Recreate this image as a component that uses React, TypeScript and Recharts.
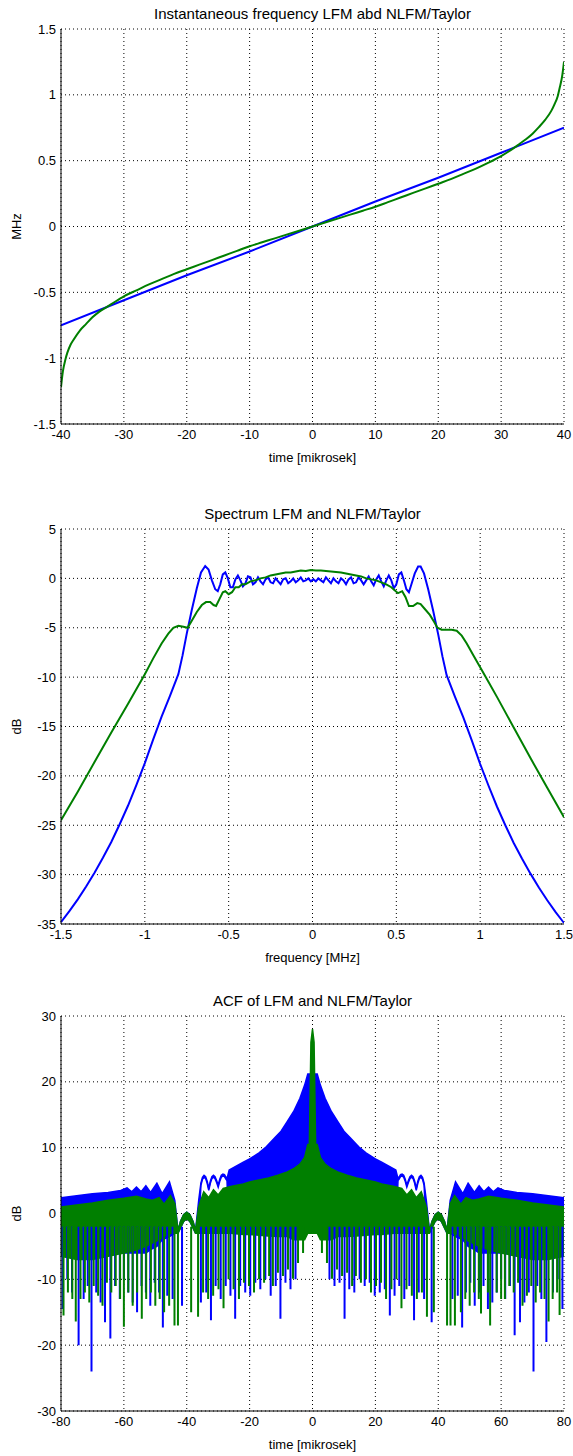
import React from "react";
import { ComposedChart, Line, Area, XAxis, YAxis, CartesianGrid } from "recharts";

const FONT = '"Liberation Sans", Arial, Helvetica, sans-serif';
const BLUE = "#0000ff";
const GREEN = "#007f00";
const W = 573;
const CHART_H = 469;
const PLOT_TOP = 29;
const Y_AXIS_W = 61;
const RIGHT = 9;

// ---------- 1: instantaneous frequency ----------
const ifTicksX = [-40, -30, -20, -10, 0, 10, 20, 30, 40];
const ifTicksY = [-1.5, -1, -0.5, 0, 0.5, 1, 1.5];
const lfmTime = [-40, -30, -20, -10, 0, 10, 20, 30, 40];
const lfmFreq = [-0.75, -0.56, -0.37, -0.19, 0, 0.19, 0.37, 0.56, 0.75];
const nlfmTime = [-40, -39.7, -39.3, -39, -38.5, -38, -37, -36, -35, -34, -33, -32, -30, -28, -26, -24, -22, -20, -18, -16, -14, -12, -10, -8, -6, -4, -2, 0, 2, 4, 6, 8, 10, 12, 14, 16, 18, 20, 22, 24, 26, 28, 30, 32, 33, 34, 35, 36, 37, 38, 38.5, 39, 39.3, 39.7, 40];
const nlfmFreq = [-1.22, -1.1, -1.01, -0.96, -0.9, -0.86, -0.79, -0.74, -0.69, -0.65, -0.62, -0.59, -0.53, -0.485, -0.44, -0.4, -0.36, -0.325, -0.29, -0.255, -0.22, -0.185, -0.15, -0.12, -0.09, -0.06, -0.03, 0, 0.03, 0.06, 0.09, 0.12, 0.15, 0.185, 0.22, 0.255, 0.29, 0.325, 0.36, 0.4, 0.44, 0.485, 0.535, 0.595, 0.63, 0.665, 0.705, 0.755, 0.81, 0.88, 0.93, 0.99, 1.05, 1.14, 1.25];

// ---------- 2: spectrum ----------
const specTicksX = [-1.5, -1, -0.5, 0, 0.5, 1, 1.5];
const specTicksY = [-35, -30, -25, -20, -15, -10, -5, 0, 5];
const lfmSpecF = [
  -1.5, -1.45, -1.4, -1.35, -1.3, -1.25, -1.2, -1.15, -1.1, -1.05, -1, -0.95, -0.9, -0.85, -0.8,
  -0.775, -0.75, -0.72, -0.69, -0.665, -0.64, -0.62, -0.6, -0.58, -0.565, -0.55, -0.535, -0.52, -0.505, -0.49,
  -0.475, -0.46, -0.445, -0.43, -0.415, -0.4, -0.385, -0.37, -0.355, -0.34, -0.325, -0.31, -0.295, -0.28, -0.265,
  -0.25, -0.235, -0.22, -0.205, -0.19, -0.175, -0.16, -0.145, -0.13, -0.115, -0.1, -0.085, -0.07, -0.055, -0.04,
  -0.025, -0.01,
  0.005, 0.02, 0.035, 0.05, 0.065, 0.08, 0.095, 0.11, 0.125, 0.14, 0.155, 0.17, 0.185, 0.2, 0.215, 0.23,
  0.245, 0.26, 0.275, 0.29, 0.305, 0.32, 0.335, 0.35, 0.365, 0.38, 0.395, 0.41, 0.425, 0.44, 0.455, 0.47,
  0.485, 0.5, 0.515, 0.53, 0.545, 0.56, 0.575, 0.59, 0.61, 0.63, 0.645, 0.665, 0.69, 0.72, 0.75, 0.775, 0.8,
  0.85, 0.9, 0.95, 1, 1.05, 1.1, 1.15, 1.2, 1.25, 1.3, 1.35, 1.4, 1.45, 1.5,
];
const lfmSpecDb = [
  -34.8, -33.7, -32.5, -31.2, -29.8, -28.3, -26.7, -24.9, -23.0, -20.9, -18.7, -16.3, -14.0, -11.9, -9.7,
  -7.8, -5.6, -3.2, -1.0, 0.6, 1.25, 0.9, -0.2, -1.1, -1.3, -0.6, 0.4, 0.6, 0.0, -0.9,
  -0.9, -0.1, 0.3, -0.2, -0.8, -0.5, 0.2, 0.1, -0.6, -0.4, 0.1, -0.3, -0.6, -0.1, 0.1,
  -0.4, -0.5, 0.0, -0.3, -0.6, -0.1, 0.0, -0.5, -0.3, 0.0, -0.4, -0.2, 0.1, -0.3, -0.2,
  0.0, -0.3,
  -0.1, -0.3, 0.0, -0.2, -0.4, 0.1, -0.2, -0.5, 0.0, -0.3, -0.5, 0.0, -0.2, -0.6, -0.1, 0.1,
  -0.5, -0.4, 0.1, -0.2, -0.6, -0.2, 0.2, -0.3, -0.7, -0.1, 0.3, -0.3, -0.8, -0.2, 0.3, -0.2,
  -1.0, -0.6, 0.4, 0.6, -0.2, -1.1, -1.4, -0.6, 0.5, 1.2, 1.2, 0.5, -1.1, -3.3, -5.7, -7.9, -9.8,
  -12.0, -14.1, -16.4, -18.8, -21.0, -23.1, -25.0, -26.8, -28.4, -29.9, -31.3, -32.6, -33.8, -34.9,
];
const nlfmSpecF = [
  -1.5, -1.4, -1.3, -1.2, -1.1, -1.0, -0.95, -0.9, -0.86, -0.83, -0.8, -0.77, -0.745, -0.72, -0.69, -0.66,
  -0.635, -0.61, -0.59, -0.575, -0.555, -0.535, -0.52, -0.5, -0.48, -0.46, -0.44, -0.42, -0.4, -0.37, -0.34,
  -0.31, -0.28, -0.25, -0.22, -0.19, -0.16, -0.13, -0.1, -0.07, -0.04, -0.01, 0.02, 0.05, 0.08, 0.11, 0.14,
  0.17, 0.2, 0.23, 0.26, 0.29, 0.32, 0.35, 0.38, 0.41, 0.44, 0.47, 0.49, 0.51, 0.535, 0.555, 0.575, 0.6,
  0.625, 0.645, 0.67, 0.7, 0.725, 0.745, 0.77, 0.8, 0.83, 0.86, 0.89, 0.92, 0.96, 1.0, 1.05, 1.1, 1.2, 1.3,
  1.4, 1.5,
];
const nlfmSpecDb = [
  -24.5, -21.6, -18.6, -15.6, -12.7, -9.7, -8.1, -6.6, -5.6, -5.0, -4.8, -4.9, -5.0, -4.3, -3.4, -2.7,
  -2.4, -2.4, -2.7, -2.8, -2.1, -1.4, -1.3, -1.6, -1.4, -0.9, -0.9, -0.6, -0.6, -0.3, -0.2,
  0.0, 0.1, 0.3, 0.4, 0.5, 0.6, 0.6, 0.7, 0.8, 0.75, 0.85, 0.8, 0.8, 0.75, 0.7, 0.65,
  0.6, 0.5, 0.4, 0.3, 0.2, 0.0, -0.1, -0.2, -0.4, -0.6, -0.9, -1.2, -1.5, -1.3, -1.9, -2.8, -2.8,
  -2.5, -2.6, -3.1, -3.7, -4.4, -5.0, -5.2, -5.2, -5.2, -5.3, -5.8, -6.6, -7.8, -9.0, -10.5, -12.0, -15.1, -18.2,
  -21.2, -24.2,
];

// ---------- 3: ACF ----------
const acfTicksX = [-80, -60, -40, -20, 0, 20, 40, 60, 80];
const acfTicksY = [-30, -20, -10, 0, 10, 20, 30];
const SPIKE_TOP = -2;
const lfmBandT = [
  -80, -75, -70, -65, -61, -59, -57.5, -56, -54.5, -53, -51.5, -49.5, -47.8, -45.5, -43.8, -42.8, -42, -41, -40, -39,
  -38, -37.2, -36.2, -35.5, -35, -34.5, -34, -33.5, -33, -32.5, -32, -31.5, -31, -30.5, -30, -29.5, -29, -28.5, -28, -27.5,
  -27.2, -26.5, -22, -20, -17, -15, -12, -10, -8, -6, -4, -2.5, -1.5,
  0,
  1.5, 2.5, 4, 6, 8, 10, 12, 15, 17, 20, 22, 26.5, 27.2, 27.5, 28, 28.5, 29, 29.5, 30, 30.5,
  31, 31.5, 32, 32.5, 33, 33.5, 34, 34.5, 35, 35.5, 36.2, 37.2, 38, 39, 40, 41, 42, 42.8, 43.8, 45.5,
  47.8, 49.5, 51.5, 53, 54.5, 56, 57.5, 59, 61, 65, 70, 75, 80,
];
const lfmBandHi = [
  2.4, 2.7, 3.0, 3.2, 3.5, 3.9, 3.3, 4.0, 3.3, 4.2, 3.2, 4.6, 3.0, 4.8, 2.0, -2.6, -1.2, -0.2, 0.2, -0.2,
  -1.2, -2.6, 2.0, 4.6, 5.5, 5.8, 5.6, 4.9, 3.8, 4.9, 5.6, 5.8, 5.6, 5.0, 4.3, 5.2, 5.8, 6.0, 5.9, 5.5,
  5.3, 6.6, 7.8, 8.3, 9.2, 10.0, 11.5, 12.5, 14.0, 15.5, 17.5, 19.5, 21.2,
  21.2,
  21.2, 19.5, 17.5, 15.5, 14.0, 12.5, 11.5, 10.0, 9.2, 8.3, 7.8, 6.6, 5.3, 5.5, 5.9, 6.0, 5.8, 5.2, 4.3, 5.0,
  5.6, 5.8, 5.6, 4.9, 3.8, 4.9, 5.6, 5.8, 5.5, 4.6, 2.0, -2.6, -1.2, -0.2, 0.2, -0.2, -1.2, -2.6, 2.0, 4.8,
  3.0, 4.6, 3.2, 4.2, 3.3, 4.0, 3.3, 3.9, 3.5, 3.2, 3.0, 2.7, 2.4,
];
const lfmBandLo = [
  -6, -6, -6, -6, -6, -6, -6, -6, -6, -6, -5.5, -5, -4, -3.5, -3, -3, -2.2, -1.2, -0.8, -1.2,
  -2.2, -3, -3, 4.3, 5.2, 5.5, 5.3, 4.6, 3.5, 4.6, 5.3, 5.5, 5.3, 4.7, 4.0, 4.9, 5.5, 5.7, 5.6, 5.2,
  5.0, -3, -3, -3, -3, -3, -3, -3, -3, -3, -3, -3, -3,
  -3,
  -3, -3, -3, -3, -3, -3, -3, -3, -3, -3, -3, -3, 5.0, 5.2, 5.6, 5.7, 5.5, 4.9, 4.0, 4.7,
  5.3, 5.5, 5.3, 4.6, 3.5, 4.6, 5.3, 5.5, 5.2, 4.3, -3, -3, -2.2, -1.2, -0.8, -1.2, -2.2, -3, -3, -3.5,
  -4, -5, -5.5, -6, -6, -6, -6, -6, -6, -6, -6, -6, -6,
];
const nlfmBandT = [
  -80, -75, -70, -65, -60, -56, -53, -51, -48.8, -47.2, -45.2, -43.8, -42.8, -42, -41, -40, -39, -38, -37.2, -36.2,
  -34.6, -33, -31.5, -30, -28.4, -26, -22, -20, -17, -14, -11, -8, -6, -4, -2.5, -1.5, -1, -0.5,
  0,
  0.5, 1, 1.5, 2.5, 4, 6, 8, 11, 14, 17, 20, 22, 26, 28.4, 30, 31.5, 33, 34.6, 36.2,
  37.2, 38, 39, 40, 41, 42, 42.8, 43.8, 45.2, 47.2, 48.8, 51, 53, 56, 60, 65, 70, 75, 80,
];
const nlfmBandHi = [
  1.0, 1.3, 1.6, 2.0, 2.3, 2.6, 2.2, 2.0, 2.4, 1.4, 2.7, 1.5, -2.6, -1.2, -0.2, 0.2, -0.2, -1.2, -2.6, 1.0,
  3.3, 2.4, 3.6, 2.8, 3.8, 4.1, 4.5, 4.8, 5.1, 5.4, 5.8, 6.3, 6.8, 7.5, 8.5, 10.5, 10.5, 26,
  28,
  26, 10.5, 10.5, 8.5, 7.5, 6.8, 6.3, 5.8, 5.4, 5.1, 4.8, 4.5, 4.1, 3.8, 2.8, 3.6, 2.4, 3.3, 1.0,
  -2.6, -1.2, -0.2, 0.2, -0.2, -1.2, -2.6, 1.5, 2.7, 1.4, 2.4, 2.0, 2.2, 2.6, 2.3, 2.0, 1.6, 1.3, 1.0,
];
const nlfmBandLo = [
  -6.5, -7, -7, -6.5, -6, -5.5, -5, -4.5, -4, -3.5, -3, -3, -3, -2.2, -1.2, -0.8, -1.2, -2.2, -3, -3,
  -3, -3, -3, -3, -3, -3, -3.2, -3.2, -3.3, -3.4, -3.5, -3.5, -4, -4, -4, -3, -3, -3,
  -3,
  -3, -3, -3, -4, -4, -4, -3.5, -3.5, -3.4, -3.3, -3.2, -3.2, -3, -3, -3, -3, -3, -3, -3,
  -3, -2.2, -1.2, -0.8, -1.2, -2.2, -3, -3, -3, -3.5, -4, -4.5, -5, -5.5, -6, -6.5, -7, -7, -6.5,
];
const lfmSpikeT = [
  -79.5, -78, -76.5, -74.4, -72.8, -71.5, -70.3, -68.8, -67.4, -66, -64.3, -62.8, -61.3, -60, -58.6, -57.2,
  -55.8, -54.4, -53, -51.6, -50.2, -48.8, -47.6, -46.2, -44.5, -41.5, -35.5, -33.8, -32.3, -30.8, -29.2, -27.6,
  -26.1, -24.6, -23, -21.4, -19.8, -18.2, -16.6, -15, -13.3, -11.7, -10.2, -8.6, -7, -5.4,
  5.4, 7, 8.6, 10.2, 11.7, 13.3, 15, 16.6, 18.2, 19.8, 21.4, 23, 24.6, 26.1, 27.6, 29.2, 30.8, 32.3, 33.8, 35.5,
  37.9, 44.5, 46.2, 47.6, 48.8, 50.2, 51.6, 53, 54.4, 55.8, 57.2, 58.6, 60, 61.3, 62.8, 64.3, 66, 67.4, 68.8,
  70.3, 71.5, 72.8, 74.4, 76.5, 78, 79.5,
];
const lfmSpikeDb = [
  -14.5, -10, -12, -20, -13, -11, -24, -12, -13.5, -16.5, -19, -11, -13, -10, -12, -13.5,
  -15, -11, -12, -14, -10.5, -12, -17.3, -12.5, -13, -14, -13.5, -12, -16.2, -11, -13, -11,
  -12.5, -16, -11, -12, -12.5, -10.5, -11.5, -10, -12.5, -11, -16, -10.5, -11.5, -10,
  -10, -11, -10.5, -16, -11.5, -12, -10, -11, -10.5, -12.5, -12, -11.5, -15.5, -12.5, -11, -13, -11, -16.2, -12, -13,
  -16.5, -13, -12.5, -17.3, -12, -10.5, -14, -12, -11, -14.5, -13.5, -12, -10, -13, -11, -18.5, -16.5, -13.5, -12,
  -24, -11, -13, -19.5, -12, -10, -14.5,
];
const nlfmSpikeT = [
  -79.2, -77.8, -76.4, -75.3, -73.8, -72.4, -71, -69.6, -68.2, -66.8, -65.4, -64, -62.6, -61.2, -60, -58.6,
  -57.2, -55.8, -54.3, -52.9, -51.4, -50, -48.6, -47.2, -45.6, -43.9, -42.8, -38.6, -36.4, -34.8, -33.2, -31.6,
  -29.9, -28.3, -26.7, -25.1, -23.4, -21.8, -20.2, -18.6, -17, -15.4, -13.8, -12.6, -11, -9.4, -7.8, -6.2, -4.6, -3,
  3, 4.6, 6.2, 7.8, 9.4, 11, 12.6, 13.8, 15.4, 17, 18.6, 20.2, 21.8, 23.4, 25.1, 26.7, 28.3, 29.9, 31.6, 33.2,
  34.8, 36.4, 38.6, 42.8, 43.9, 45.3, 47.2, 48.6, 50, 51.4, 52.9, 53.6, 55.8, 56.5, 58.6, 60, 61.2, 62.6, 64, 65.4,
  66.8, 68.2, 69.6, 71, 72.4, 73.8, 75.1, 76.4, 77.8, 78.6,
];
const nlfmSpikeDb = [
  -15.5, -12, -13, -16.4, -13, -12, -13.5, -11, -12.5, -14, -10.5, -12, -11, -13, -17.2, -12,
  -14, -12, -16, -13, -12, -14, -13, -15, -14, -17, -17, -15, -15.7, -12, -13, -12.5,
  -11.5, -14.4, -10, -11.5, -13, -10.5, -11, -12, -10, -10.5, -9.5, -11, -9, -9.5, -8.5, -9.9, -7.5, -6,
  -6, -7.5, -9.9, -8.5, -9.5, -9, -11, -9.5, -10.5, -10, -12, -11, -10.5, -13, -11.5, -10, -14.4, -11.5, -12.5, -13,
  -12, -15.7, -15, -17, -17, -17, -15, -13, -14, -12, -13, -15.2, -12, -17, -12, -13, -13, -11, -12, -10.5,
  -14, -12.5, -11, -13.5, -12, -13, -16.4, -13, -12, -15.4,
];

const zip = (xs: number[], ys: number[]) => xs.map((x, i) => ({ x, y: ys[i] }));
const band = (xs: number[], lo: number[], hi: number[]) => xs.map((x, i) => ({ x, y: [lo[i], hi[i]] }));
const spikes = (xs: number[], ys: number[]) =>
  xs.flatMap((x, i) => [{ x, y: SPIKE_TOP }, { x, y: ys[i] }, { x, y: null }]);

const tickStyle = { fill: "#000", fontSize: 13, fontFamily: FONT };

function XLabel(props: any) {
  const vb = props.viewBox || { x: 0, y: 0, width: 0, height: 0 };
  return (
    <text x={vb.x + vb.width / 2} y={vb.y + 33} textAnchor="middle" dominantBaseline="central"
      fontFamily={FONT} fontSize={13} fill="#000">{props.text}</text>
  );
}

function YLabel(props: any) {
  const vb = props.viewBox || { x: 0, y: 0, width: 0, height: 0 };
  const cx = 16;
  const cy = vb.y + vb.height / 2;
  return (
    <text x={cx} y={cy} transform={`rotate(-90 ${cx} ${cy})`} textAnchor="middle" dominantBaseline="central"
      fontFamily={FONT} fontSize={13} fill="#000">{props.text}</text>
  );
}

function Panel(props: any) {
  const { top, title, xLabel, yLabel, xDomain, xTicks, yDomain, yTicks, children } = props;
  return (
    <div style={{ position: "absolute", left: 0, top, width: W, height: CHART_H }}>
      <div style={{ position: "absolute", left: Y_AXIS_W, width: W - Y_AXIS_W - RIGHT, top: PLOT_TOP - 24, height: 18,
        lineHeight: "18px", textAlign: "center", fontFamily: FONT, fontSize: 15, color: "#000" }}>{title}</div>
      <ComposedChart width={W} height={CHART_H} margin={{ top: PLOT_TOP, right: RIGHT, bottom: 0, left: 0 }}>
        <CartesianGrid stroke="#000" strokeDasharray="1 3" />
        <XAxis dataKey="x" type="number" domain={xDomain} ticks={xTicks} interval={0} allowDataOverflow
          tickLine={false} tickSize={0} tickMargin={6} axisLine={{ stroke: "#000" }} tick={tickStyle}
          height={45} label={<XLabel text={xLabel} />} />
        <XAxis xAxisId="top" orientation="top" type="number" domain={xDomain} ticks={xTicks} interval={0}
          allowDataOverflow mirror tick={false} tickSize={5} tickLine={{ stroke: "#000" }}
          axisLine={{ stroke: "#000" }} height={0} />
        <XAxis xAxisId="bm" orientation="bottom" type="number" domain={xDomain} ticks={xTicks} interval={0}
          allowDataOverflow mirror tick={false} tickSize={5} tickLine={{ stroke: "#000" }} axisLine={false} height={0} />
        <YAxis type="number" domain={yDomain} ticks={yTicks} interval={0} allowDataOverflow width={Y_AXIS_W}
          tickLine={false} tickSize={0} tickMargin={5} axisLine={{ stroke: "#000" }} tick={tickStyle}
          label={<YLabel text={yLabel} />} />
        <YAxis yAxisId="r" orientation="right" type="number" domain={yDomain} ticks={yTicks} interval={0}
          allowDataOverflow mirror tick={false} tickSize={5} tickLine={{ stroke: "#000" }}
          axisLine={{ stroke: "#000" }} width={0} />
        <YAxis yAxisId="lm" orientation="left" type="number" domain={yDomain} ticks={yTicks} interval={0}
          allowDataOverflow mirror tick={false} tickSize={5} tickLine={{ stroke: "#000" }} axisLine={false} width={0} />
        {children}
      </ComposedChart>
    </div>
  );
}

export default function App() {
  return (
    <div style={{ position: "absolute", left: 0, top: 0, width: W, height: 1456, background: "#fff" }}>
      <Panel top={0} title="Instantaneous frequency LFM abd NLFM/Taylor" xLabel="time [mikrosek]" yLabel="MHz"
        xDomain={[-40, 40]} xTicks={ifTicksX} yDomain={[-1.5, 1.5]} yTicks={ifTicksY}>
        <Line data={zip(lfmTime, lfmFreq)} dataKey="y" type="linear" stroke={BLUE} strokeWidth={2}
          dot={false} activeDot={false} isAnimationActive={false} />
        <Line data={zip(nlfmTime, nlfmFreq)} dataKey="y" type="monotone" stroke={GREEN} strokeWidth={2}
          dot={false} activeDot={false} isAnimationActive={false} />
      </Panel>

      <Panel top={500} title="Spectrum LFM and NLFM/Taylor" xLabel="frequency [MHz]" yLabel="dB"
        xDomain={[-1.5, 1.5]} xTicks={specTicksX} yDomain={[-35, 5]} yTicks={specTicksY}>
        <Line data={zip(lfmSpecF, lfmSpecDb)} dataKey="y" type="linear" stroke={BLUE} strokeWidth={2}
          dot={false} activeDot={false} isAnimationActive={false} />
        <Line data={zip(nlfmSpecF, nlfmSpecDb)} dataKey="y" type="linear" stroke={GREEN} strokeWidth={2}
          dot={false} activeDot={false} isAnimationActive={false} />
      </Panel>

      <Panel top={987} title="ACF of LFM and NLFM/Taylor" xLabel="time [mikrosek]" yLabel="dB"
        xDomain={[-80, 80]} xTicks={acfTicksX} yDomain={[-30, 30]} yTicks={acfTicksY}>
        <Area data={band(lfmBandT, lfmBandLo, lfmBandHi)} dataKey="y" type="linear" stroke={BLUE} strokeWidth={1.5}
          fill={BLUE} fillOpacity={1} dot={false} activeDot={false} isAnimationActive={false} />
        <Line data={spikes(lfmSpikeT, lfmSpikeDb)} dataKey="y" type="linear" stroke={BLUE} strokeWidth={2}
          dot={false} activeDot={false} connectNulls={false} isAnimationActive={false} />
        <Area data={band(nlfmBandT, nlfmBandLo, nlfmBandHi)} dataKey="y" type="linear" stroke={GREEN} strokeWidth={1.5}
          fill={GREEN} fillOpacity={1} dot={false} activeDot={false} isAnimationActive={false} />
        <Line data={spikes(nlfmSpikeT, nlfmSpikeDb)} dataKey="y" type="linear" stroke={GREEN} strokeWidth={2}
          dot={false} activeDot={false} connectNulls={false} isAnimationActive={false} />
      </Panel>
    </div>
  );
}
